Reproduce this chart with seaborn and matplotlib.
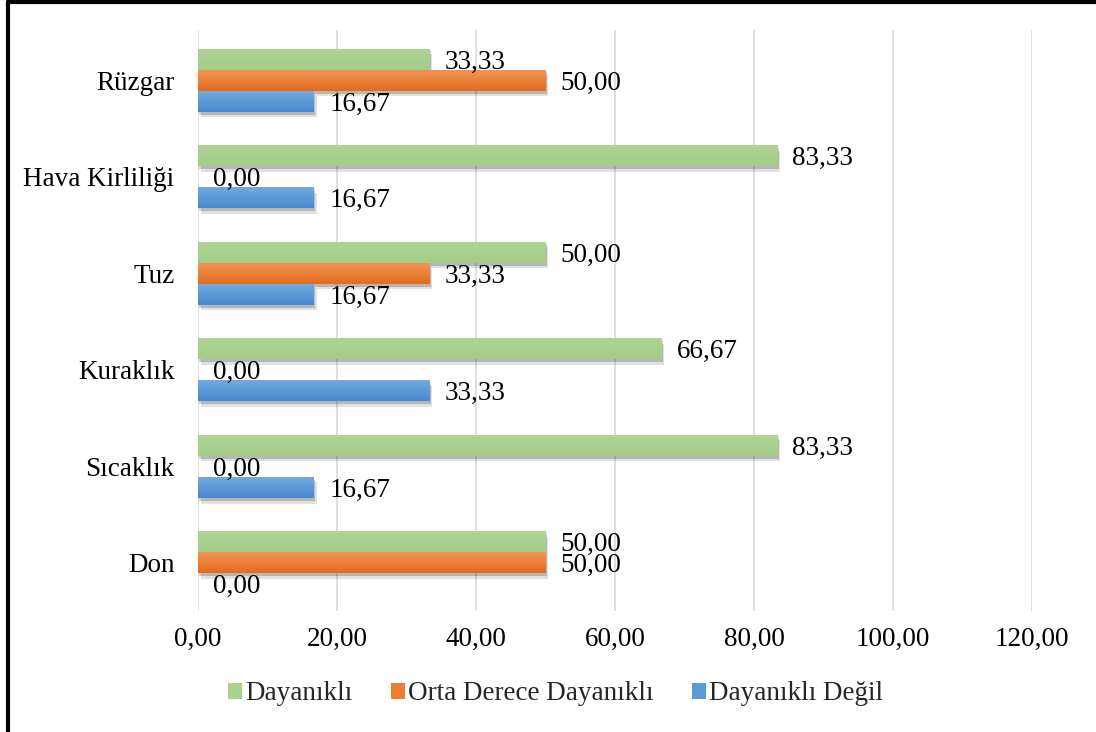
import matplotlib
matplotlib.use("Agg")
import matplotlib.pyplot as plt
import matplotlib.patheffects as pe
from matplotlib.patches import Patch
from matplotlib.lines import Line2D
from matplotlib.colors import LinearSegmentedColormap
import numpy as np
import seaborn as sns
import pandas as pd

categories = ["Rüzgar", "Hava Kirliliği", "Tuz", "Kuraklık", "Sıcaklık", "Don"]
series = ["Dayanıklı", "Orta Derece Dayanıklı", "Dayanıklı Değil"]
dayanikli = [33.33, 83.33, 50.00, 66.67, 83.33, 50.00]
orta = [50.00, 0.00, 33.33, 0.00, 0.00, 50.00]
degil = [16.67, 16.67, 16.67, 33.33, 16.67, 0.00]
xticks = [0, 20, 40, 60, 80, 100, 120]

colors = ["#A9D18E", "#ED7D31", "#5B9BD5"]
grad = [("#AFD495", "#A3CD88"), ("#F4955A", "#E56B1C"), ("#74ABDF", "#4A88CE")]

rows = []
for s, vals in zip(series, [dayanikli, orta, degil]):
    for c, v in zip(categories, vals):
        rows.append({"cat": c, "series": s, "val": v})
df = pd.DataFrame(rows)

sns.set_theme(style="white")
plt.rcParams["font.family"] = ["Liberation Serif", "DejaVu Serif"]
FS = 19.5

fig = plt.figure(figsize=(10.96, 7.32), dpi=100)
ax = fig.add_axes([0.1807, 0.165, 0.7609, 0.794])

sns.barplot(data=df, y="cat", x="val", hue="series", order=categories,
            hue_order=series, palette=colors, orient="h", width=0.655,
            saturation=1, ax=ax, legend=False, linewidth=0)

shadow = [pe.SimplePatchShadow(offset=(2, -4), alpha=0.12, shadow_rgbFace="#000000"),
          pe.SimplePatchShadow(offset=(1, -2), alpha=0.18, shadow_rgbFace="#000000"),
          pe.Normal()]
ramp = np.linspace(0, 1, 64).reshape(-1, 1)
for cont, (ctop, cbot) in zip(ax.containers, grad):
    cmap = LinearSegmentedColormap.from_list("g", [ctop, cbot])
    for p in cont:
        p.set_path_effects(shadow)
        x0, y0 = p.get_x(), p.get_y()
        w, h = p.get_width(), p.get_height()
        if w > 0:
            im = ax.imshow(ramp, cmap=cmap, aspect="auto",
                           extent=(x0, x0 + w, y0 + h, y0), origin="upper",
                           zorder=p.get_zorder() + 0.1, interpolation="bilinear")
            im.set_clip_path(p)
    labels = [f"{v:.2f}".replace(".", ",") for v in cont.datavalues]
    anns = ax.bar_label(cont, labels=labels, padding=11, fontsize=FS, color="#000000")
    for a in anns:
        a.xyann = (11, -2)

ax.set_xlim(0, 120)
ax.set_ylim(5.5, -0.52)
ax.set_aspect("auto")
ax.set_xticks(xticks)
ax.set_xticklabels([f"{v:.2f}".replace(".", ",") for v in xticks])
ax.grid(axis="x", color="#D9D9D9", linewidth=1.2)
ax.set_axisbelow(True)
for s in ax.spines.values():
    s.set_visible(False)
ax.tick_params(axis="y", length=0, pad=17, labelsize=FS, labelcolor="#000000")
ax.tick_params(axis="x", length=0, pad=11, labelsize=FS, labelcolor="#000000")
ax.set_xlabel("")
ax.set_ylabel("")

handles = [Patch(facecolor=c, edgecolor="none") for c in colors]
fig.legend(handles, series, loc="center", bbox_to_anchor=(0.507, 0.052), ncol=3,
           frameon=False, fontsize=FS, handlelength=0.52, handleheight=0.52,
           handletextpad=0.12, columnspacing=1.4)

fig.add_artist(Line2D([0.0073, 0.0073], [0, 0.997], transform=fig.transFigure, color="black", linewidth=3))
fig.add_artist(Line2D([0.0073, 1.0], [0.997, 0.997], transform=fig.transFigure, color="black", linewidth=3))

fig.savefig("out.png", dpi=100)
